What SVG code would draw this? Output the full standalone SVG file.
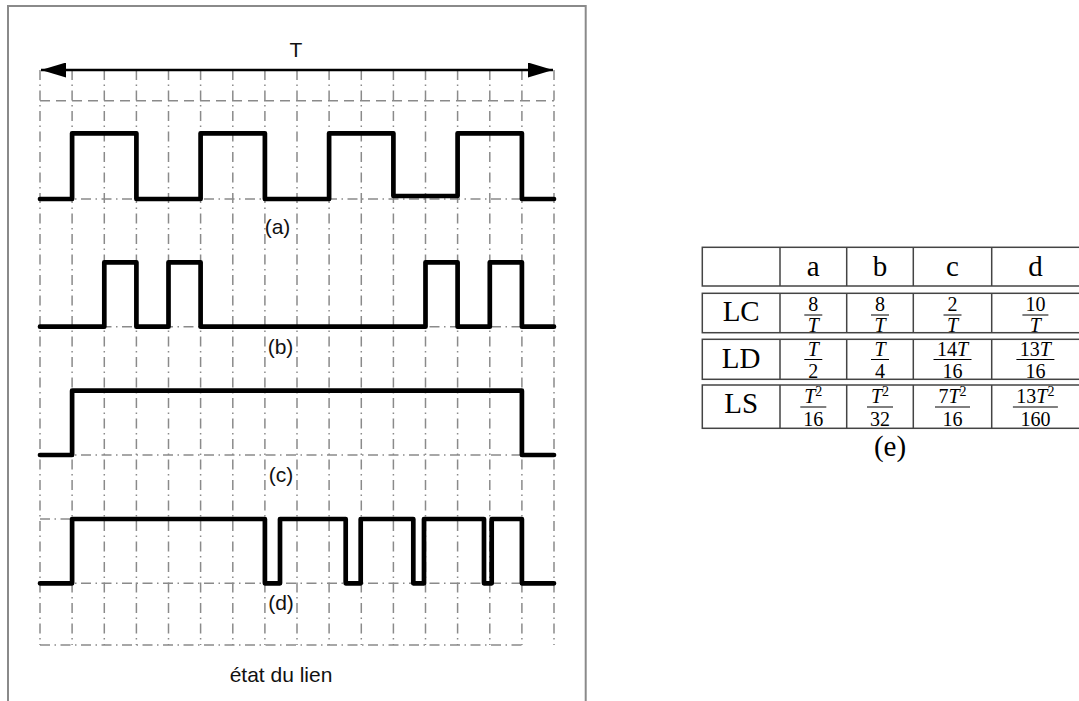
<svg xmlns="http://www.w3.org/2000/svg" width="1079" height="701" viewBox="0 0 1079 701">
<style>
.frame{fill:none;stroke:#8a8a8a;stroke-width:2}
.vg{stroke:#8a8a8a;stroke-width:1.5;fill:none;stroke-dasharray:10 4.5 1.5 4.5}
.hd{stroke:#8a8a8a;stroke-width:1.5;fill:none;stroke-dasharray:10 6}
.hdd{stroke:#8a8a8a;stroke-width:1.5;fill:none;stroke-dasharray:10 4.5 1.5 4.5}
.wave{fill:none;stroke:#000;stroke-width:4.7;stroke-linejoin:round;stroke-linecap:round}
.lbl{font-family:"Liberation Sans",Arial,sans-serif;font-size:21px;fill:#111;text-anchor:middle}
.tb{fill:none;stroke:#444;stroke-width:1.5}
.tt{font-family:"Liberation Serif","Times New Roman",serif;font-size:29px;fill:#000;text-anchor:middle}
.fn{font-family:"Liberation Serif","Times New Roman",serif;font-size:20px;fill:#000;text-anchor:middle}
.it{font-style:italic}
.bar{stroke:#000;stroke-width:1}
</style>
<defs>
<marker id="ah" markerWidth="25" markerHeight="15" refX="25" refY="7.5" orient="auto-start-reverse" markerUnits="userSpaceOnUse">
<path d="M0,0 L25,7.5 L0,15 Z" fill="#000"/>
</marker>
</defs>

<rect class="frame" x="8" y="6" width="577.7" height="710"/>

<g id="grid">
<path class="vg" d="M40,70V645M72.1,70V645M104.3,70V645M136.4,70V645M168.5,70V645M200.6,70V645M232.8,70V645M264.9,70V645M297,70V645M329.1,70V645M361.3,70V645M393.4,70V645M425.5,70V645M457.6,70V645M489.8,70V645M521.9,70V645M554,70V645"/>
<path class="hd" d="M40,100.7H554"/>
<path class="hdd" d="M40,199H554M40,326.7H554M40,455H554M40,519H72M40,583.3H554M40,645H522"/>
</g>

<g id="connectors">
<line x1="41" y1="70" x2="553" y2="70" stroke="#000" stroke-width="2.6" marker-start="url(#ah)" marker-end="url(#ah)"/>
</g>
<text class="lbl" x="296" y="57">T</text>

<g id="wave-a">
<path class="wave" d="M40,199H72.1V133.3H136.4V199H200.6V133.3H264.9V199H329.1V133.3H393.4V196H457.6V133.3H521.9V199H554"/>
<text class="lbl" x="277.5" y="234">(a)</text>
</g>
<g id="wave-b">
<path class="wave" d="M40,326.7H104.3V262.3H136.4V326.7H168.5V262.3H200.6V326.7H425.5V262.3H457.6V326.7H489.8V262.3H521.9V326.7H554"/>
<text class="lbl" x="280.5" y="354">(b)</text>
</g>
<g id="wave-c">
<path class="wave" d="M40,455H72.1V390.7H521.9V455H554"/>
<text class="lbl" x="281" y="482">(c)</text>
</g>
<g id="wave-d">
<path class="wave" d="M40,583.3H72.1V519H264.9V583.3H280V519H345.7V583.3H360.7V519H413.3V583.3H424V519H484V583.3H491.7V519H521.9V583.3H554"/>
<text class="lbl" x="281" y="610">(d)</text>
</g>
<text class="lbl" x="281" y="682">état du lien</text>

<g id="table">
<rect class="tb" x="702.3" y="247.3" width="379" height="38.7"/>
<rect class="tb" x="702.3" y="293.3" width="379" height="39.4"/>
<rect class="tb" x="702.3" y="339.3" width="379" height="40"/>
<rect class="tb" x="702.3" y="385" width="379" height="43.3"/>
<path class="tb" d="M780,247.3V286M846.7,247.3V286M913.3,247.3V286M991.7,247.3V286M780,293.3V332.7M846.7,293.3V332.7M913.3,293.3V332.7M991.7,293.3V332.7M780,339.3V379.3M846.7,339.3V379.3M913.3,339.3V379.3M991.7,339.3V379.3M780,385V428.3M846.7,385V428.3M913.3,385V428.3M991.7,385V428.3"/>

<text class="tt" x="813.3" y="275.5">a</text>
<text class="tt" x="880" y="275.5">b</text>
<text class="tt" x="952.5" y="275.5">c</text>
<text class="tt" x="1035.4" y="275.5">d</text>

<text class="tt" x="741.2" y="321">LC</text>
<text class="tt" x="741.2" y="368">LD</text>
<text class="tt" x="741.2" y="413">LS</text>

<text class="fn" x="813.3" y="311">8</text><line class="bar" x1="804.3" y1="315" x2="822.3" y2="315"/><text class="fn it" x="813.3" y="331.5">T</text>
<text class="fn" x="880" y="311">8</text><line class="bar" x1="871" y1="315" x2="889" y2="315"/><text class="fn it" x="880" y="331.5">T</text>
<text class="fn" x="952.5" y="311">2</text><line class="bar" x1="943.5" y1="315" x2="961.5" y2="315"/><text class="fn it" x="952.5" y="331.5">T</text>
<text class="fn" x="1035.4" y="311">10</text><line class="bar" x1="1022.4" y1="315" x2="1048.4" y2="315"/><text class="fn it" x="1035.4" y="331.5">T</text>

<text class="fn it" x="813.3" y="355.5">T</text><line class="bar" x1="804.3" y1="359.5" x2="822.3" y2="359.5"/><text class="fn" x="813.3" y="377.5">2</text>
<text class="fn it" x="880" y="355.5">T</text><line class="bar" x1="871" y1="359.5" x2="889" y2="359.5"/><text class="fn" x="880" y="377.5">4</text>
<text class="fn" x="952.5" y="355.5">14<tspan class="it">T</tspan></text><line class="bar" x1="933.5" y1="359.5" x2="971.5" y2="359.5"/><text class="fn" x="952.5" y="377.5">16</text>
<text class="fn" x="1035.4" y="355.5">13<tspan class="it">T</tspan></text><line class="bar" x1="1016.4" y1="359.5" x2="1054.4" y2="359.5"/><text class="fn" x="1035.4" y="377.5">16</text>

<text class="fn" x="813.3" y="403"><tspan class="it">T</tspan><tspan font-size="14" dy="-7">2</tspan></text><line class="bar" x1="800.3" y1="407" x2="826.3" y2="407"/><text class="fn" x="813.3" y="426">16</text>
<text class="fn" x="880" y="403"><tspan class="it">T</tspan><tspan font-size="14" dy="-7">2</tspan></text><line class="bar" x1="867" y1="407" x2="893" y2="407"/><text class="fn" x="880" y="426">32</text>
<text class="fn" x="952.5" y="403">7<tspan class="it">T</tspan><tspan font-size="14" dy="-7">2</tspan></text><line class="bar" x1="935" y1="407" x2="970" y2="407"/><text class="fn" x="952.5" y="426">16</text>
<text class="fn" x="1035.4" y="403">13<tspan class="it">T</tspan><tspan font-size="14" dy="-7">2</tspan></text><line class="bar" x1="1012.9" y1="407" x2="1057.9" y2="407"/><text class="fn" x="1035.4" y="426">160</text>

<text class="tt" x="890" y="456">(e)</text>
</g>
</svg>
